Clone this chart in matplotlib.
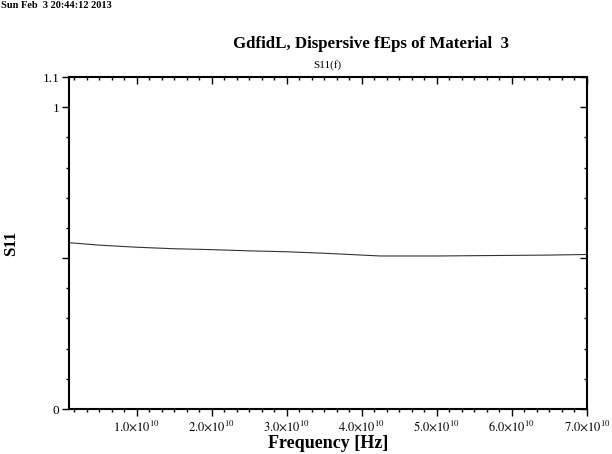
import numpy as np
import matplotlib
matplotlib.use("Agg")
import matplotlib.pyplot as plt
from matplotlib.ticker import FixedLocator, MultipleLocator

plt.rcParams['font.family'] = ['Liberation Serif', 'DejaVu Serif']
plt.rcParams['mathtext.fontset'] = 'stix'

# S11
freq = [1e9, 5e9, 1e10, 1.5e10, 2e10, 2.5e10, 3e10, 3.5e10, 4e10,
        4.25e10, 4.5e10, 5e10, 5.5e10, 6e10, 6.5e10, 7e10]
s11 = [0.551, 0.543, 0.536, 0.531, 0.528, 0.524, 0.521, 0.516, 0.510,
       0.507, 0.507, 0.507, 0.508, 0.509, 0.510, 0.512]

xticks = [1e10, 2e10, 3e10, 4e10, 5e10, 6e10, 7e10]
xlabels = [r'$%.1f{\times}10^{10}$' % (v / 1e10) for v in xticks]
yticks = [0, 0.5, 1.0, 1.1]
ylabels = ['0', '', '1', '1.1']

fig = plt.figure(figsize=(6.12, 4.54), dpi=100)
ax = fig.add_axes([69/612, 1-409/454, (587-69)/612, (409-77)/454])

ax.plot(freq, s11, color='#333333', lw=0.8)

ax.set_xlim(1e9, 7e10)
ax.set_ylim(0, 1.1)

ax.xaxis.set_major_locator(FixedLocator(xticks))
ax.set_xticklabels(xlabels, fontsize=9)
ax.xaxis.set_minor_locator(MultipleLocator(1e10 / 6))
ax.yaxis.set_major_locator(FixedLocator(yticks))
ax.set_yticklabels(ylabels, fontsize=9.5)
ax.yaxis.set_minor_locator(MultipleLocator(0.1))

for s in ax.spines.values():
    s.set_linewidth(1.5)

ax.tick_params(which='both', top=True, right=True, width=1.0, pad=2)
ax.tick_params(axis='x', which='both', direction='out')
ax.tick_params(axis='y', which='both', direction='out')
ax.tick_params(which='major', length=5)
ax.tick_params(which='minor', length=2.5)
# top/right ticks point inward (down / left)
for t in ax.xaxis.get_ticklines(minor=False)[1::2] + ax.xaxis.get_ticklines(minor=True)[1::2]:
    t.set_marker(3)
for t in ax.yaxis.get_ticklines(minor=False)[1::2] + ax.yaxis.get_ticklines(minor=True)[1::2]:
    t.set_marker(0)

ax.set_xlabel('Frequency [Hz]', fontsize=13, fontweight='bold', labelpad=1)
ax.set_ylabel('S11', fontsize=12, fontweight='bold', labelpad=17)

fig.text(371/612, 1-44/454, 'GdfidL, Dispersive fEps of Material  3',
         ha='center', va='center', fontsize=12.2, fontweight='bold')
fig.text(327/612, 1-65/454, 'S11(f)', ha='center', va='center', fontsize=8)
fig.text(1/612, 1-5/454, 'Sun Feb  3 20:44:12 2013', ha='left', va='center',
         fontsize=7.5, fontweight='bold')

fig.savefig('out.png', dpi=100)
